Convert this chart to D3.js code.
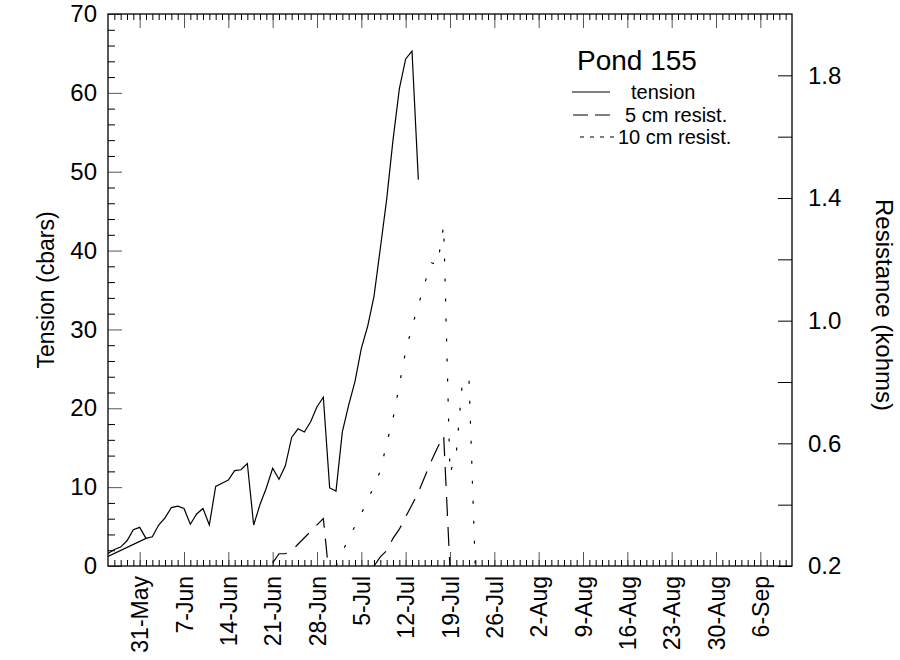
<!DOCTYPE html>
<html>
<head>
<meta charset="utf-8">
<script src="https://cdn.jsdelivr.net/npm/d3@7"></script>
<style>
  body { margin: 0; background: #fff; }
  svg { font-family: "Liberation Sans", Arial, sans-serif; }
</style>
</head>
<body>
<svg id="chart" width="900" height="660"></svg>
<script>
// data (year only used for the time scale)
const tensionEarlyDates = ["26-May", "27-May", "28-May", "29-May", "30-May", "31-May", "1-Jun"]
const tensionEarly = [1.6, 2.1, 2.4, 3.2, 4.6, 4.9, 3.5]

const tensionDates = ["26-May", "1-Jun", "2-Jun", "3-Jun", "4-Jun", "5-Jun", "6-Jun", "7-Jun", "8-Jun", "9-Jun",
  "10-Jun", "11-Jun", "12-Jun", "13-Jun", "14-Jun", "15-Jun", "16-Jun", "17-Jun", "18-Jun", "19-Jun",
  "20-Jun", "21-Jun", "22-Jun", "23-Jun", "24-Jun", "25-Jun", "26-Jun", "27-Jun", "28-Jun", "29-Jun",
  "30-Jun", "1-Jul", "2-Jul", "3-Jul", "4-Jul", "5-Jul", "6-Jul", "7-Jul", "8-Jul", "9-Jul",
  "10-Jul", "11-Jul", "12-Jul", "13-Jul", "14-Jul"]
const tension = [1.2, 3.5, 3.7, 5.2, 6.1, 7.4, 7.6, 7.3, 5.3, 6.6,
  7.3, 5.2, 10.1, 10.5, 10.9, 12.1, 12.2, 13.0, 5.2, 7.8,
  9.9, 12.4, 11.0, 12.7, 16.3, 17.4, 17.0, 18.3, 20.2, 21.4,
  9.9, 9.5, 17.0, 20.4, 23.4, 27.6, 30.4, 34.2, 40.3, 46.5,
  54.0, 60.5, 64.3, 65.3, 49.0]

const r5Dates = ["21-Jun", "22-Jun", "23-Jun", "24-Jun", "29-Jun", "30-Jun", null,
  "7-Jul", "8-Jul", "9-Jul", "10-Jul", "11-Jul", "12-Jul", "13-Jul", "14-Jul", "15-Jul", "16-Jul", "17-Jul", "18-Jul", "19-Jul"]
const r5 = [0.21, 0.24, 0.24, 0.25, 0.355, 0.15, null,
  0.2, 0.23, 0.25, 0.29, 0.32, 0.36, 0.40, 0.44, 0.49, 0.54, 0.585, 0.625, 0.19]

const r10Dates = ["1-Jul", "2-Jul", "3-Jul", "4-Jul", "5-Jul", "6-Jul", "7-Jul", "8-Jul", "9-Jul", "10-Jul",
  "11-Jul", "12-Jul", "13-Jul", "14-Jul", "15-Jul", "16-Jul", "17-Jul", "18-Jul", "19-Jul", "20-Jul",
  "21-Jul", "22-Jul", "23-Jul"]
const r10 = [0.2, 0.245, 0.29, 0.33, 0.37, 0.415, 0.46, 0.51, 0.6, 0.68,
  0.79, 0.9, 0.98, 1.05, 1.12, 1.19, 1.18, 1.31, 0.5, 0.57,
  0.81, 0.81, 0.19]

const leftTicks = d3.range(0, 71, 2)
const leftLabels = [0, 10, 20, 30, 40, 50, 60, 70]
const rightTicks = [0.2, 0.4, 0.6, 0.8, 1.0, 1.2, 1.4, 1.6, 1.8]
const rightLabels = [0.2, 0.6, 1.0, 1.4, 1.8]

const parse = d3.timeParse("%d-%b-%Y")
const day = s => parse(s + "-1999")

const svg = d3.select("#chart")
const L = 108, R = 792, T = 14, B = 566

const x = d3.scaleTime().domain([day("26-May"), day("11-Sep")]).range([L, R])
const yT = d3.scaleLinear().domain([0, 70]).range([B, T])
const yR = d3.scaleLinear().domain([0.2, 2.0]).range([B, T])

const allDays = d3.timeDay.range(day("27-May"), day("11-Sep"))
// weekly marks starting 31-May
const weekDays = d3.range(0, 15).map(i => d3.timeDay.offset(day("31-May"), i * 7))

function noDomain(g) { g.select(".domain").remove() }
const fmt = d3.timeFormat("%-d-%b")

// bottom axis ticks (pointing up)
svg.append("g").attr("transform", `translate(0,${B})`)
  .call(d3.axisTop(x).tickValues(allDays).tickSize(6).tickFormat(""))
  .call(noDomain)
svg.append("g").attr("transform", `translate(0,${B})`)
  .call(d3.axisTop(x).tickValues(weekDays).tickSize(14).tickFormat(""))
  .call(noDomain)
  .selectAll("line").attr("stroke", "#555")
// bottom labels, rotated
const xl = svg.append("g").attr("transform", `translate(0,${B})`)
  .call(d3.axisBottom(x).tickValues(weekDays).tickSize(0).tickFormat(fmt))
  .call(noDomain)
xl.selectAll("text")
  .attr("transform", "rotate(-90)")
  .attr("text-anchor", "end")
  .attr("x", -10).attr("y", 0).attr("dy", "0.35em")
  .attr("font-size", 23).attr("font-family", null).attr("fill", "#000")

// top axis ticks (pointing down)
svg.append("g").attr("transform", `translate(0,${T})`)
  .call(d3.axisBottom(x).tickValues(allDays).tickSize(6).tickFormat(""))
  .call(noDomain)
svg.append("g").attr("transform", `translate(0,${T})`)
  .call(d3.axisBottom(x).tickValues(weekDays).tickSize(14).tickFormat(""))
  .call(noDomain)
  .selectAll("line").attr("stroke", "#555")

// left axis
svg.append("g").attr("transform", `translate(${L},0)`)
  .call(d3.axisRight(yT).tickValues(leftTicks.filter(d => d % 10)).tickSize(7).tickFormat(""))
  .call(noDomain)
svg.append("g").attr("transform", `translate(${L},0)`)
  .call(d3.axisRight(yT).tickValues(leftLabels).tickSize(14).tickFormat(""))
  .call(noDomain)
  .selectAll("line").attr("stroke", "#555")
svg.append("g").attr("transform", `translate(${L},0)`)
  .call(d3.axisLeft(yT).tickValues(leftLabels).tickSize(0).tickPadding(11))
  .call(noDomain)
  .selectAll("text").attr("font-size", 24).attr("font-family", null).attr("fill", "#000")

// right axis
svg.append("g").attr("transform", `translate(${R},0)`)
  .call(d3.axisLeft(yR).tickValues(rightTicks).tickSize(14).tickFormat(""))
  .call(noDomain)
svg.append("g").attr("transform", `translate(${R},0)`)
  .call(d3.axisRight(yR).tickValues(rightLabels).tickSize(0).tickPadding(16).tickFormat(d3.format(".1f")))
  .call(noDomain)
  .selectAll("text").attr("font-size", 24).attr("font-family", null).attr("fill", "#000")

// frame
svg.append("rect")
  .attr("x", L).attr("y", T).attr("width", R - L).attr("height", B - T)
  .attr("fill", "none").attr("stroke", "#000").attr("stroke-width", 1.3)

// axis titles
svg.append("text")
  .attr("transform", `translate(54,${(T + B) / 2}) rotate(-90)`)
  .attr("text-anchor", "middle").attr("font-size", 23)
  .text("Tension (cbars)")
svg.append("text")
  .attr("transform", `translate(876,${(T + B) / 2 + 15}) rotate(90)`)
  .attr("text-anchor", "middle").attr("font-size", 24)
  .text("Resistance (kohms)")

// data lines
svg.append("clipPath").attr("id", "plot")
  .append("rect").attr("x", L).attr("y", T).attr("width", R - L).attr("height", B - T)
const plot = svg.append("g").attr("clip-path", "url(#plot)")
  .attr("fill", "none").attr("stroke", "#000").attr("stroke-width", 1.2)

const zip = (ds, vs) => ds.map((d, i) => ({ d: d == null ? null : day(d), v: vs[i] }))
const lineT = d3.line().x(p => x(p.d)).y(p => yT(p.v))
const lineR = d3.line().defined(p => p.d != null).x(p => x(p.d)).y(p => yR(p.v))

plot.append("path").attr("d", lineT(zip(tensionEarlyDates, tensionEarly)))
plot.append("path").attr("d", lineT(zip(tensionDates, tension)))
plot.append("path").attr("d", lineR(zip(r5Dates, r5)))
  .attr("stroke-dasharray", "19,11")
plot.append("path").attr("d", lineR(zip(r10Dates, r10)))
  .attr("stroke-dasharray", "3,17")

// legend
const lg = svg.append("g")
lg.append("text").attr("x", 577).attr("y", 70).attr("font-size", 28).text("Pond 155")
lg.append("line").attr("x1", 572).attr("x2", 610).attr("y1", 92).attr("y2", 92)
  .attr("stroke", "#000").attr("stroke-width", 1.2)
lg.append("line").attr("x1", 573).attr("x2", 610).attr("y1", 115).attr("y2", 115)
  .attr("stroke", "#000").attr("stroke-width", 1.2).attr("stroke-dasharray", "15,7")
lg.append("line").attr("x1", 580).attr("x2", 616).attr("y1", 137).attr("y2", 137)
  .attr("stroke", "#000").attr("stroke-width", 1.2).attr("stroke-dasharray", "4,6")
lg.append("text").attr("x", 631).attr("y", 99).attr("font-size", 20).text("tension")
lg.append("text").attr("x", 625).attr("y", 122).attr("font-size", 20).text("5 cm resist.")
lg.append("text").attr("x", 618).attr("y", 144).attr("font-size", 20).text("10 cm resist.")
</script>
</body>
</html>
